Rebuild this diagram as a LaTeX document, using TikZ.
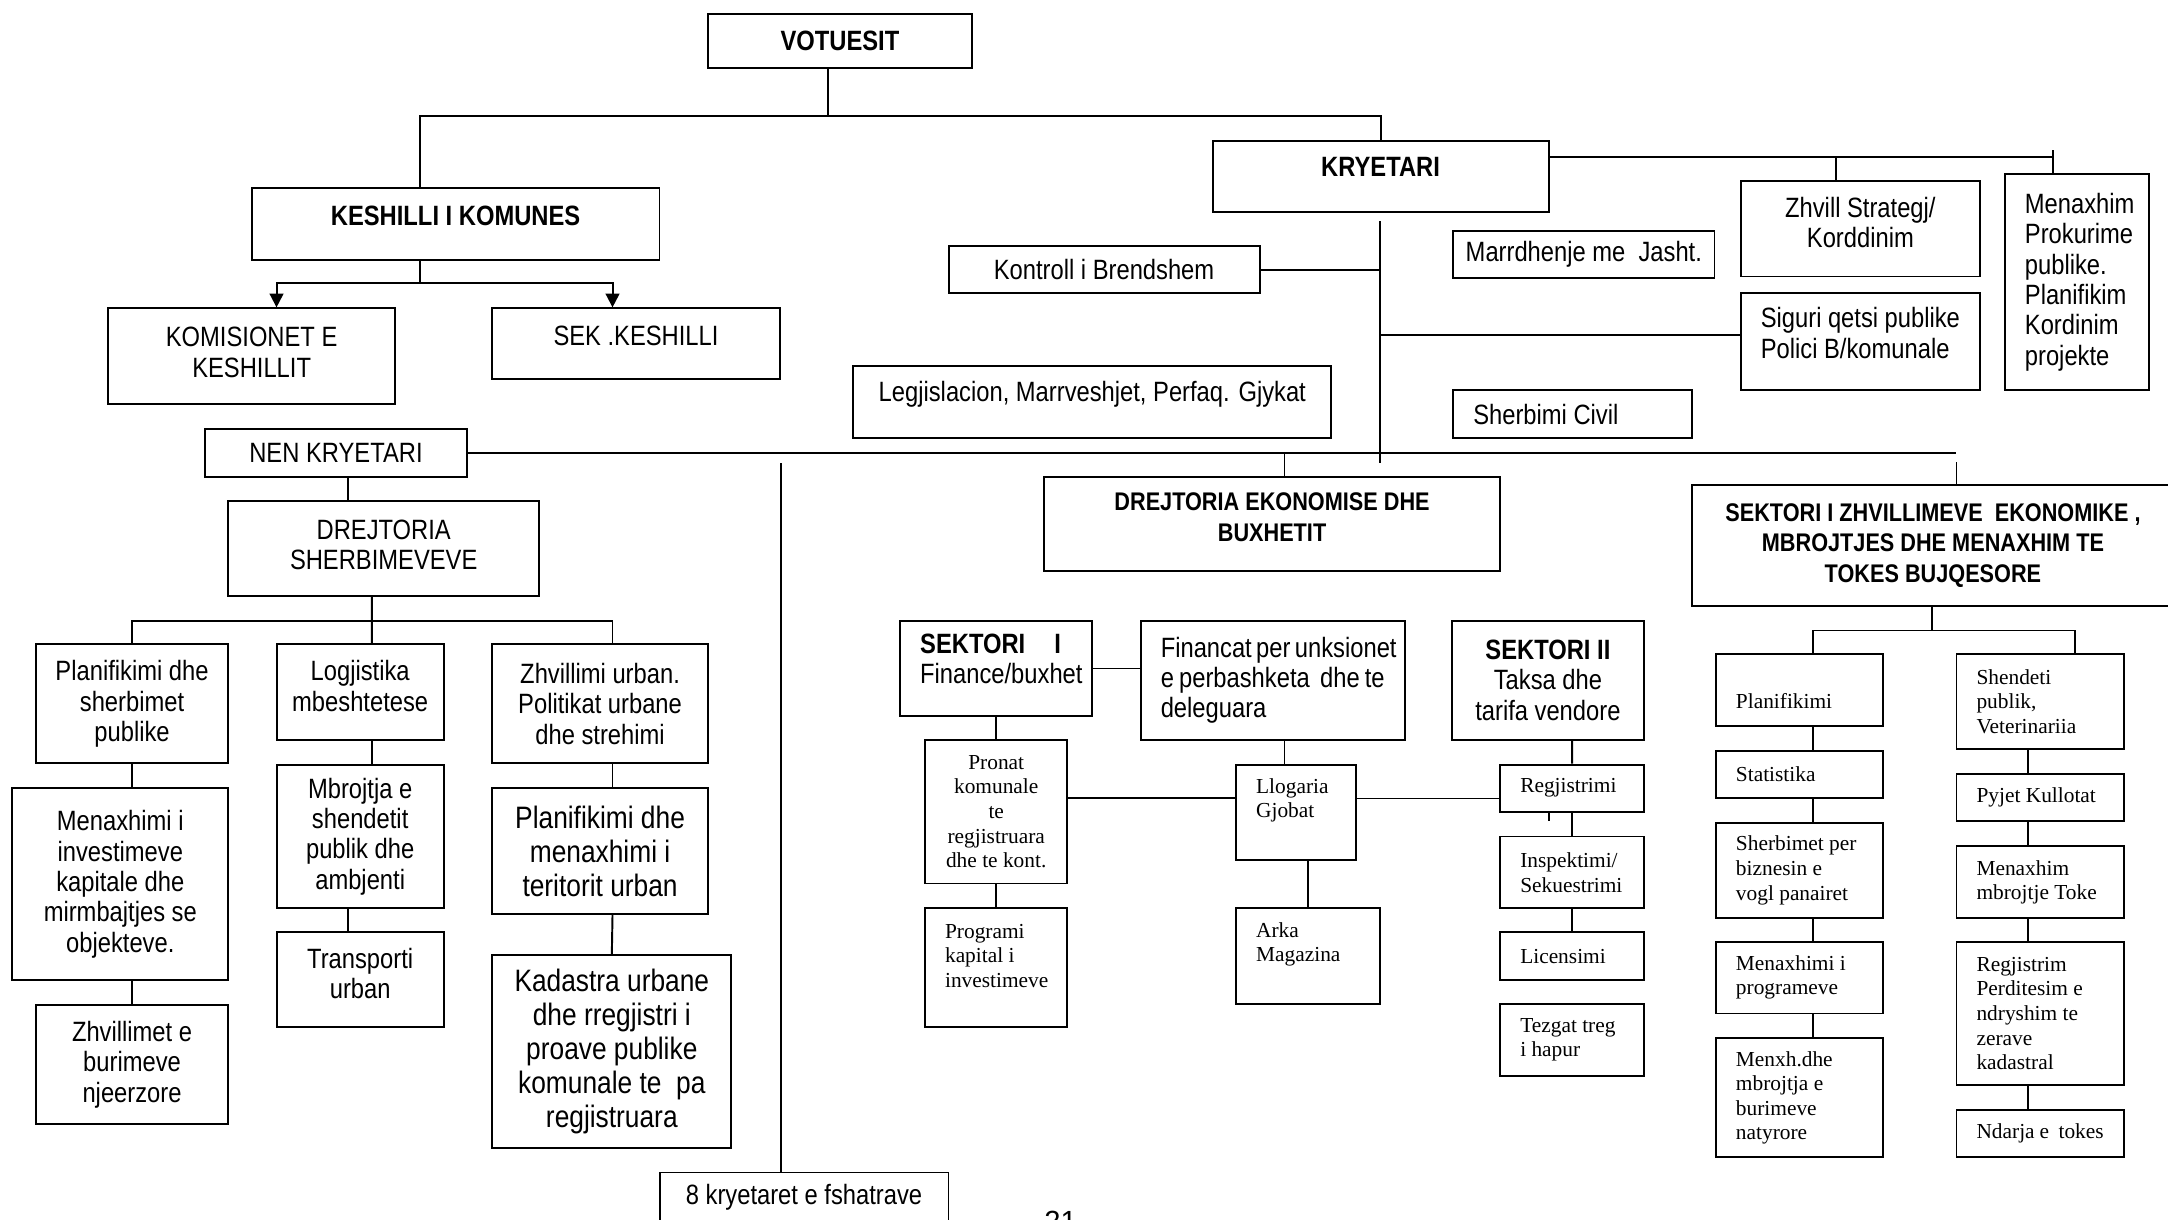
\documentclass[tikz,border=0pt]{standalone}
\usepackage{fontspec}
\newfontfamily\narrowfont[FakeStretch=0.85]{Liberation Sans}
\newfontfamily\timesfont{Liberation Serif}
\newfontfamily\plainfont{Liberation Sans}
\usetikzlibrary{arrows.meta}
\hyphenpenalty=10000
\exhyphenpenalty=10000
\newcommand{\textlift}[1]{\rule[-#1]{0pt}{0pt}}
\newcommand{\textdrop}[1]{\rule{0pt}{#1}}
\tikzstyle{box}=[draw, rectangle, line width=0.8pt, inner sep=0pt, align=center, font=\narrowfont\fontsize{11.5}{12.5}\selectfont]
\tikzstyle{head}=[box, font=\narrowfont\bfseries\fontsize{11.5}{12.5}\selectfont]
\tikzstyle{subhead}=[box, font=\narrowfont\bfseries\fontsize{10.5}{12.6}\selectfont]
\tikzstyle{bigbox}=[box, font=\narrowfont\fontsize{12.75}{14}\selectfont]
\tikzstyle{lbox}=[box, inner xsep=0.29cm, align=flush left]
\tikzstyle{tbox}=[lbox, font=\timesfont\fontsize{8.8}{10.1}\selectfont]
\tikzstyle{link}=[draw, line width=0.8pt]
\tikzstyle{arrowlink}=[link, -{Triangle[length=0.2cm, width=0.2cm]}]

\begin{document}
\begin{tikzpicture}[x=0.02cm, y=-0.02cm]
    \useasboundingbox (0,0) rectangle (1568,882);

    % Top of the chart: voters, council, mayor
    \node[head, minimum width=3.82cm, minimum height=0.78cm] (vot) at (607.5,29.5) {VOTUESIT};
    \node[head, minimum width=5.90cm, minimum height=1.04cm] (council) at (329.5,162) {KESHILLI I KOMUNES\textlift{6.8pt}};
    \node[box, minimum width=4.16cm, minimum height=1.38cm] (komis) at (182,257.5) {KOMISIONET E\\KESHILLIT\textlift{3pt}};
    \node[box, minimum width=4.16cm, minimum height=1.02cm] (sek) at (460,248.5) {SEK .KESHILLI\textlift{6.3pt}};
    \node[head, minimum width=4.86cm, minimum height=1.02cm] (mayor) at (998.5,127.5) {KRYETARI\textlift{7.4pt}};
    \node[box, minimum width=4.50cm, minimum height=0.68cm] (kontroll) at (798.5,195) {Kontroll i Brendshem};
    \node[box, minimum width=6.92cm, minimum height=1.04cm] (legj) at (790,291) {Legjislacion, Marrveshjet, Perfaq. Gjykat\textlift{9.2pt}};
    \node[box, minimum width=3.78cm, minimum height=0.68cm] (marrd) at (1145.5,184) {Marrdhenje me~~Jasht.};
    \node[box, minimum width=3.46cm, minimum height=1.38cm] (zhvill) at (1345.5,165.5) {Zhvill Strategj/\\Korddinim\textlift{5.1pt}};
    \node[lbox, text width=2.88cm, minimum width=3.46cm, minimum height=1.40cm] (siguri) at (1345.5,247) {Siguri~qetsi~publike\\Polici~B/komunale\textlift{7pt}};
    \node[lbox, text width=1.50cm, minimum width=2.08cm, minimum height=3.12cm] (prokur) at (1502,204) {Menaxhim\\Prokurime\\publike.\\Planifikim\\Kordinim\\projekte};
    \node[lbox, text width=2.88cm, minimum width=3.46cm, minimum height=0.70cm] (civil) at (1137.5,299.5) {Sherbimi~Civil};
    \node[box, minimum width=3.80cm, minimum height=0.70cm] (vice) at (243,327.5) {NEN KRYETARI};

    % The directorates
    \node[box, minimum width=4.50cm, minimum height=1.38cm] (dsherb) at (277.5,396.5) {DREJTORIA\\SHERBIMEVEVE\textlift{3pt}};
    \node[subhead, minimum width=6.60cm, minimum height=1.36cm] (dekon) at (920,379) {DREJTORIA EKONOMISE DHE\\BUXHETIT\textlift{5.7pt}};
    \node[subhead, minimum width=6.96cm, minimum height=1.74cm] (dzhvill) at (1398,394.5) {SEKTORI I ZHVILLIMEVE~~EKONOMIKE ,\\MBROJTJES DHE MENAXHIM TE\\TOKES BUJQESORE};
    \node[box, minimum width=4.18cm, minimum height=0.72cm] (fshat) at (581.5,866) {8 kryetaret e fshatrave};
    \node[font=\plainfont\fontsize{12}{14}\selectfont, inner sep=0pt] (pagenum) at (767,883) {21};

    % Services
    \node[box, minimum width=2.78cm, minimum height=1.72cm] (plan) at (95.5,509) {Planifikimi dhe\\sherbimet\\publike};
    \node[box, minimum width=3.12cm, minimum height=2.78cm] (menax) at (87,639.5) {Menaxhimi i\\investimeve\\kapitale dhe\\mirmbajtjes se\\objekteve.};
    \node[box, minimum width=2.78cm, minimum height=1.72cm] (burim) at (95.5,770) {Zhvillimet e\\burimeve\\njeerzore};
    \node[box, minimum width=2.42cm, minimum height=1.38cm] (logj) at (260.5,500.5) {Logjistika\\mbeshtetese\textlift{5.1pt}};
    \node[box, minimum width=2.42cm, minimum height=2.08cm] (mbroj) at (260.5,605) {Mbrojtja e\\shendetit\\publik dhe\\ambjenti};
    \node[box, minimum width=2.42cm, minimum height=1.38cm] (trans) at (260.5,708.5) {Transporti\\urban\textlift{5.1pt}};
    \node[box, minimum width=3.12cm, minimum height=1.72cm] (zhurb) at (434,509) {Zhvillimi urban.\\Politikat urbane\\dhe strehimi};
    \node[bigbox, minimum width=3.12cm, minimum height=1.82cm] (terit) at (434,615.5) {Planifikimi dhe\\menaxhimi i\\teritorit urban};
    \node[bigbox, minimum width=3.46cm, minimum height=2.78cm] (kadas) at (442.5,760.5) {Kadastra urbane\\dhe rregjistri i\\proave publike\\komunale te~~pa\\regjistruara};

    % Economy and budget
    \node[lbox, text width=2.20cm, minimum width=2.78cm, minimum height=1.38cm] (sek1) at (720.5,483.5) {\textbf{SEKTORI\hspace{0.42cm}I}\\Finance/buxhet\textlift{8pt}};
    \node[lbox, text width=3.24cm, minimum width=3.82cm, minimum height=1.72cm] (fin) at (920.5,492) {Financat~per~unksionet\\e~perbashketa~~dhe~te\\deleguara};
    \node[box, minimum width=2.78cm, minimum height=1.72cm] (sek2) at (1119.5,492) {\textbf{SEKTORI II}\\Taksa dhe\\tarifa vendore};
    \node[tbox, align=center, minimum width=2.06cm, minimum height=2.08cm] (pronat) at (720.5,587) {Pronat\\komunale\\te\\regjistruara\\dhe te kont.};
    \node[tbox, text width=1.48cm, minimum width=2.06cm, minimum height=1.72cm] (progr) at (720.5,700) {Programi\\kapital~i\\investimeve\textlift{10.2pt}};
    \node[tbox, text width=1.16cm, minimum width=1.74cm, minimum height=1.38cm] (llog) at (937.5,587.5) {Llogaria\\Gjobat\textlift{11.6pt}};
    \node[tbox, text width=1.50cm, minimum width=2.08cm, minimum height=1.38cm] (arka) at (946,691.5) {Arka\\Magazina\textlift{11.6pt}};
    \node[tbox, text width=1.50cm, minimum width=2.08cm, minimum height=0.68cm] (regj) at (1137,570) {Regjistrimi};
    \node[tbox, text width=1.50cm, minimum width=2.08cm, minimum height=1.04cm] (insp) at (1137,631) {Inspektimi/\\Sekuestrimi};
    \node[tbox, text width=1.50cm, minimum width=2.08cm, minimum height=0.70cm] (licen) at (1137,691.5) {Licensimi};
    \node[tbox, text width=1.50cm, minimum width=2.08cm, minimum height=1.04cm] (tezg) at (1137,752) {Tezgat~treg\\i~hapur};

    % Economic development and land
    \node[tbox, text width=1.84cm, minimum width=2.42cm, minimum height=1.04cm] (rplan) at (1301.5,499) {\textdrop{15.1pt}Planifikimi};
    \node[tbox, text width=1.84cm, minimum width=2.42cm, minimum height=0.68cm] (stat) at (1301.5,560) {Statistika};
    \node[tbox, text width=1.84cm, minimum width=2.42cm, minimum height=1.38cm] (biz) at (1301.5,629.5) {Sherbimet~per\\biznesin~e\\vogl~panairet};
    \node[tbox, text width=1.84cm, minimum width=2.42cm, minimum height=1.04cm] (prog) at (1301.5,707) {Menaxhimi~i\\programeve};
    \node[tbox, text width=1.84cm, minimum width=2.42cm, minimum height=1.72cm] (natyr) at (1301.5,794) {Menxh.dhe\\mbrojtja~e\\burimeve\\natyrore};
    \node[tbox, text width=1.84cm, minimum width=2.42cm, minimum height=1.38cm] (shend) at (1475.5,507.5) {Shendeti\\publik,\\Veterinariia};
    \node[tbox, text width=1.84cm, minimum width=2.42cm, minimum height=0.68cm] (pyjet) at (1475.5,577) {Pyjet~Kullotat};
    \node[tbox, text width=1.84cm, minimum width=2.42cm, minimum height=1.04cm] (toke) at (1475.5,638) {Menaxhim\\mbrojtje~Toke};
    \node[tbox, text width=1.84cm, minimum width=2.42cm, minimum height=2.08cm] (kadastral) at (1475.5,733) {Regjistrim\\Perditesim~e\\ndryshim~te\\zerave\\kadastral};
    \node[tbox, text width=1.84cm, minimum width=2.42cm, minimum height=0.68cm] (ndarja) at (1475.5,820) {Ndarja~e~~tokes};

    % Connect voters, council and mayor
    \coordinate (vbus) at (599,84);
    \draw[link] (vot.south -| vbus) -- (vbus);
    \coordinate (ctop) at ([xshift=-0.51cm]council.north);
    \draw[link] (ctop) |- (vbus) -| (mayor.north);
    \coordinate (cbus) at (304,205);
    \draw[link] (council.south -| cbus) -- (cbus);
    \coordinate (kin) at ([xshift=0.36cm]komis.north);
    \coordinate (sin) at ([xshift=-0.34cm]sek.north);
    \draw[arrowlink] (cbus) -| (kin);
    \draw[arrowlink] (cbus) -| (sin);

    % Offices round the mayor
    \coordinate (mright) at (1485,113.5);
    \draw[link] (mayor.east |- mright) -- (mright);
    \draw[link] ([yshift=0.1cm]mright) -- (prokur.north -| mright);
    \coordinate (zbr) at (1328,113.5);
    \draw[link] (zbr) -- (zhvill.north -| zbr);
    \coordinate (mtop) at (998,160);
    \coordinate (mbot) at (998,335);
    \draw[link] (mtop) -- (mbot);
    \draw[link] (kontroll.east) -- (kontroll.east -| mbot);
    \coordinate (sgl) at ([yshift=0.1cm]siguri.west);
    \draw[link] (sgl) -- (sgl -| mbot);

    % Vice mayor line
    \coordinate (nend) at (1415,327.5);
    \draw[link] (vice.east) -- (nend);
    \coordinate (dktop) at ([xshift=0.18cm]dekon.north);
    \draw[link] (dktop |- nend) -- (dktop);
    \draw[link] ([yshift=-0.14cm]nend) -- (dzhvill.north -| nend);
    \coordinate (vdrop) at ([xshift=0.18cm]vice.south);
    \draw[link] (vdrop) -- (vdrop |- dsherb.north);
    \coordinate (fv) at (565,335);
    \draw[link] (fv) -- (fv |- fshat.north);

    % Services
    \coordinate (sbus) at (269,449);
    \coordinate (lgtop) at ([xshift=0.17cm]logj.north);
    \coordinate (zutop) at ([xshift=0.18cm]zhurb.north);
    \draw[link] (dsherb.south -| sbus) -- (lgtop);
    \draw[link] (plan.north) |- (sbus) -| (zutop);
    \draw[link] (plan.south) -- (plan.south |- menax.north);
    \draw[link] (burim.north |- menax.south) -- (burim.north);
    \draw[link] ([xshift=0.17cm]logj.south) -- ([xshift=0.17cm]mbroj.north);
    \draw[link] ([xshift=-0.17cm]mbroj.south) -- ([xshift=-0.17cm]trans.north);
    \draw[link] ([xshift=0.18cm]zhurb.south) -- ([xshift=0.18cm]terit.north);
    \draw[link] ([xshift=0.18cm]terit.south) -- (kadas.north);

    % Economy
    \draw[link] (sek1.east) -- (sek1.east -| fin.west);
    \draw[link] (sek1.south) -- (pronat.north);
    \draw[link] (pronat.south) -- (progr.north);
    \coordinate (fdrop) at ([xshift=0.17cm]fin.south);
    \draw[link] (fdrop) -- (fdrop |- llog.north);
    \draw[link] ([xshift=0.17cm]llog.south) -- (arka.north);
    \coordinate (pl) at ([yshift=0.2cm]pronat.east);
    \draw[link] (pl) -- (pl -| llog.west);
    \coordinate (lr) at ([yshift=0.2cm]llog.east);
    \draw[link] (lr) -- (lr -| regj.west);
    \draw[link] ([xshift=0.35cm]sek2.south) -- (regj.north);
    \draw[link] ([xshift=-0.34cm]regj.south) -- ++(0,6);
    \draw[link] (regj.south) -- (insp.north);
    \draw[link] (insp.south) -- (licen.north);

    % Economic development and land
    \coordinate (rbus) at (1397,456);
    \draw[link] (dzhvill.south -| rbus) -- (rbus);
    \coordinate (rtop) at ([xshift=0.19cm]rplan.north);
    \coordinate (shtop) at ([xshift=0.51cm]shend.north);
    \draw[link] (rtop) |- (rbus) -| (shtop);
    \foreach \src/\dst in {rplan/stat, stat/biz, biz/prog, prog/natyr}
        \draw[link] ([xshift=0.19cm]\src.south) -- ([xshift=0.19cm]\dst.north);
    \foreach \src/\dst in {shend/pyjet, pyjet/toke, toke/kadastral, kadastral/ndarja}
        \draw[link] ([xshift=-0.17cm]\src.south) -- ([xshift=-0.17cm]\dst.north);
\end{tikzpicture}
\end{document}
